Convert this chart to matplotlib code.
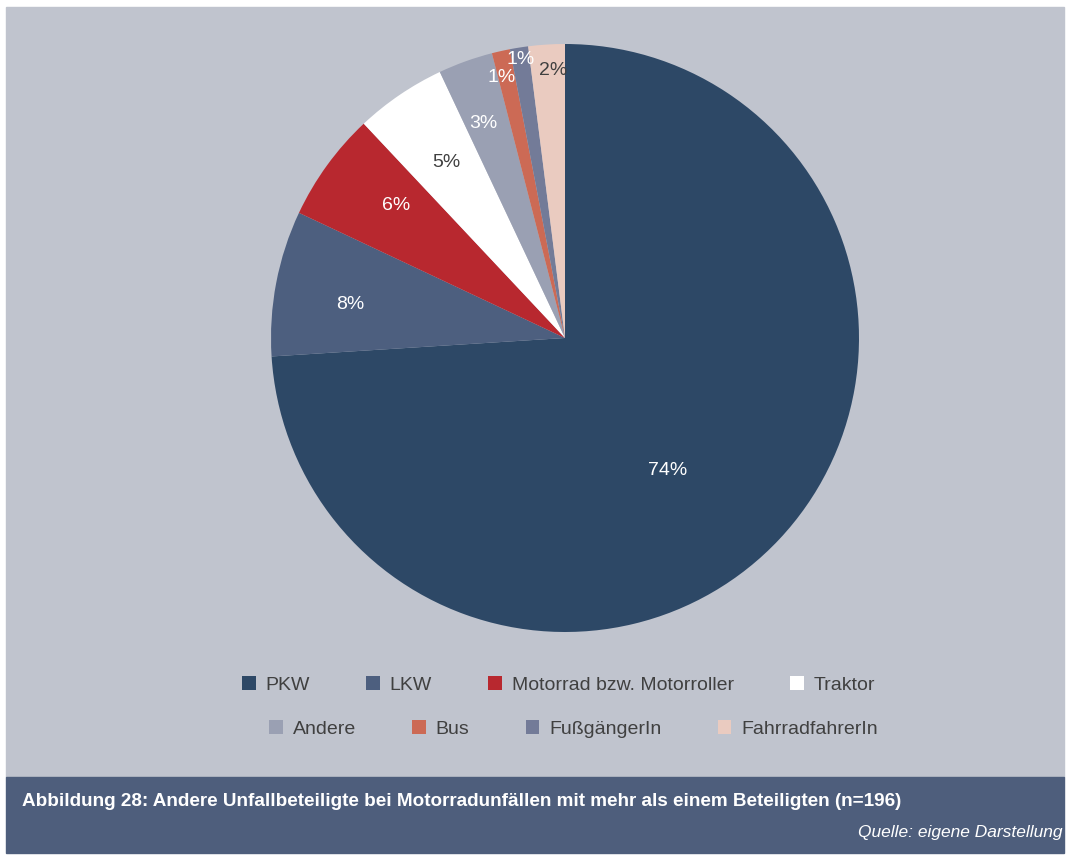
import matplotlib.pyplot as plt
import numpy as np
from matplotlib.patches import Rectangle

plt.rcParams['font.family'] = ['Liberation Sans', 'DejaVu Sans']

# Andere Unfallbeteiligte, Anteile in Prozent (n=196)
categories = ['PKW', 'LKW', 'Motorrad bzw. Motorroller', 'Traktor',
              'Andere', 'Bus', 'FußgängerIn', 'FahrradfahrerIn']
shares = [74, 8, 6, 5, 3, 1, 1, 2]
colors = ['#2d4866', '#4d5f7f', '#b8282f', '#ffffff',
          '#9aa0b3', '#cc6a55', '#737b98', '#eacbc0']
label_colors = ['white', 'white', 'white', '#404040',
                'white', 'white', 'white', '#404040']
label_radius = [0.57, 0.74, 0.73, 0.72, 0.78, 0.91, 0.96, 0.91]
label_turn = [-9, 2, -2, 0, 1, 1, 0, -1]   # Grad, gegen Uhrzeigersinn

W, H = 1070, 856
fig = plt.figure(figsize=(W / 100, H / 100), dpi=100, facecolor='white')

# grauer Hintergrund und Fußzeile
fig.patches.append(Rectangle((6 / W, 1 - 777 / H), 1058 / W, 770 / H,
                             transform=fig.transFigure, color='#c0c4ce', zorder=-10))
fig.patches.append(Rectangle((6 / W, 1 - 853 / H), 1058 / W, 76 / H,
                             transform=fig.transFigure, color='#4e5e7c', zorder=-10))

ax = fig.add_axes([271 / W, 1 - 632 / H, 588 / W, 588 / H])
ax.patch.set_visible(False)
wedges, _ = ax.pie(shares, colors=colors, startangle=90, counterclock=False,
                   radius=1.0, wedgeprops=dict(linewidth=0))
ax.set_xlim(-1, 1)
ax.set_ylim(-1, 1)
ax.set_aspect('equal')
ax.axis('off')

for w, val, tc, r, t in zip(wedges, shares, label_colors, label_radius, label_turn):
    mid = np.deg2rad((w.theta1 + w.theta2) / 2 + t)
    ax.text(r * np.cos(mid), r * np.sin(mid), f'{val}%', color=tc,
            fontsize=14, ha='center', va='center')

# Legende in zwei Zeilen
leg_kw = dict(frameon=False, fontsize=14, labelcolor='#404040',
              handlelength=0.7, handleheight=0.7, handletextpad=0.5,
              columnspacing=2.9, loc='center')
fig.legend(wedges[:4], categories[:4], ncol=4,
           bbox_to_anchor=(0.522, 1 - 685 / H), **leg_kw)
fig.legend(wedges[4:], categories[4:], ncol=4,
           bbox_to_anchor=(0.536, 1 - 729 / H), **leg_kw)
for lg in fig.legends:
    for h in lg.legend_handles:
        h.set_edgecolor('none')

fig.text(22 / W, 1 - 802 / H,
         'Abbildung 28: Andere Unfallbeteiligte bei Motorradunfällen mit mehr als einem Beteiligten (n=196)',
         color='white', fontsize=13.6, fontweight='bold', ha='left', va='center')
fig.text(1062 / W, 1 - 833 / H, 'Quelle: eigene Darstellung',
         color='white', fontsize=12.5, style='italic', ha='right', va='center')

fig.savefig('out.png', dpi=100, facecolor=fig.get_facecolor())
